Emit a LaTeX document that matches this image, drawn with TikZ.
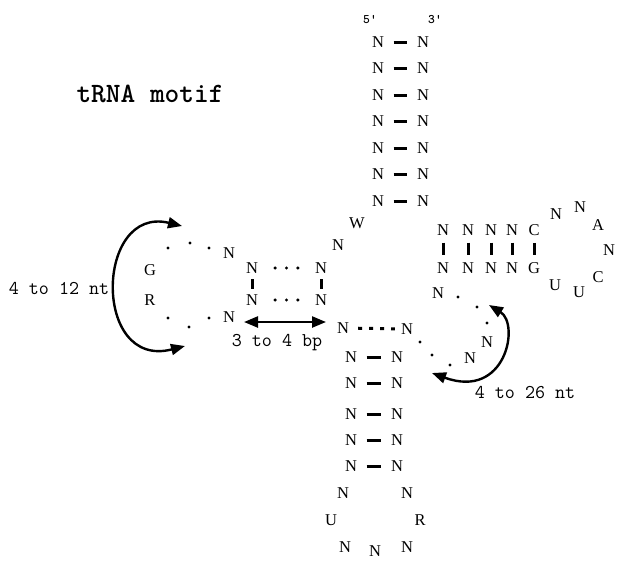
\documentclass[tikz,border=0pt]{standalone}
\usepackage{fontspec}
\newfontfamily\basefont{Liberation Serif}
\usetikzlibrary{arrows.meta}
\begin{document}
\begin{tikzpicture}[x=1pt,y=-1pt,
  nt/.style={inner sep=0pt, font=\fontsize{16.5}{16.5}\selectfont\basefont},
  lbl/.style={inner sep=0pt, font=\fontsize{19.5}{19.5}\selectfont\ttfamily},
  endlbl/.style={inner sep=0pt, font=\fontsize{13}{13}\selectfont\ttfamily\bfseries},
  hbar/.style={line width=3pt, shorten >=9.5pt, shorten <=9.5pt},
  vbar/.style={line width=3pt, shorten >=5.5pt, shorten <=5.5pt},
  nd/.style={circle, fill, inner sep=0pt, minimum size=3.4pt},
  span/.style={line width=2.4pt, {Triangle[length=14pt,width=11pt]}-{Triangle[length=14pt,width=11pt]}}
]
\useasboundingbox (0,0) rectangle (617,560);

% title
\node[inner sep=0pt, font=\fontsize{28}{28}\selectfont\ttfamily\bfseries] (title) at (150,94) {tRNA motif};

% acceptor stem
\node[endlbl] (five) at (370,20) {5'};
\node[endlbl] (three) at (435,20) {3'};
\foreach \i/\y in {1/42,2/68.5,3/95,4/121.5,5/148,6/174.5,7/201} {
  \node[nt] (al\i) at (378,\y) {N};
  \node[nt] (ar\i) at (423,\y) {N};
  \draw[hbar] (al\i) -- (ar\i);
}

% junction
\node[nt] (w) at (357,223) {W};
\node[nt] (j1) at (338,245) {N};

% D stem
\node[nt] (d1) at (252,268) {N};
\node[nt] (d2) at (321,268) {N};
\node[nt] (d3) at (252,300) {N};
\node[nt] (d4) at (321,300) {N};
\draw[vbar] (d1) -- (d3);
\draw[vbar] (d2) -- (d4);
\path (d1) -- (d2) node[nd,pos=.3]{} node[nd,pos=.5]{} node[nd,pos=.7]{};
\path (d3) -- (d4) node[nd,pos=.3]{} node[nd,pos=.5]{} node[nd,pos=.7]{};

% D loop
\node[nt] (dl1) at (229,253) {N};
\node[nd] (dd1) at (209,248) {};
\node[nd] (dd2) at (190,243) {};
\node[nd] (dd3) at (168,248) {};
\node[nt] (g) at (150,270) {G};
\node[nt] (r) at (150,300) {R};
\node[nd] (dd4) at (168,318) {};
\node[nd] (dd5) at (189,327) {};
\node[nd] (dd6) at (209,318) {};
\node[nt] (dl2) at (229,317) {N};

% D loop size
\coordinate (lt) at (182,226);
\coordinate (lb) at (185,346);
\draw[span] (lt) .. controls (95,205) and (92,370) .. (lb);
\node[lbl] (ntD) at (59,288) {4 to 12 nt};

% D stem size
\coordinate (bpl) at (244,322);
\coordinate (bpr) at (326,322);
\draw[span] (bpl) -- (bpr);
\node[lbl] (bp) at (277,343) {3 to 4 bp};

% T stem
\foreach \i/\x/\t/\b in {1/443/N/N,2/468/N/N,3/491/N/N,4/512/N/N,5/534/C/G} {
  \node[nt] (tu\i) at (\x,230) {\t};
  \node[nt] (tb\i) at (\x,268) {\b};
  \draw[vbar, shorten >=7pt, shorten <=7pt] (tu\i) -- (tb\i);
}

% T loop
\node[nt] (tl1) at (556,214) {N};
\node[nt] (tl2) at (580,207) {N};
\node[nt] (tl3) at (598,225) {A};
\node[nt] (tl4) at (609,250) {N};
\node[nt] (tl5) at (598,277) {C};
\node[nt] (tl6) at (579,292) {U};
\node[nt] (tl7) at (555,285) {U};

% variable region
\node[nt] (v1) at (438,293) {N};
\node[nd] (vd1) at (458,297) {};
\node[nd] (vd2) at (477,307) {};
\node[nd] (vd3) at (487,323) {};
\node[nt] (v2) at (487,342) {N};
\node[nt] (v3) at (470,358) {N};
\node[nd] (vd4) at (450,365) {};
\node[nd] (vd5) at (432,355) {};
\node[nd] (vd6) at (420,342) {};

% variable region size
\coordinate (rt) at (489,305);
\coordinate (rb) at (432,373);
\draw[span] (rt) .. controls (520,324) and (506,400) .. (rb);
\node[lbl] (ntV) at (525,393) {4 to 26 nt};

% anticodon stem
\node[nt] (c1) at (343,328) {N};
\node[nt] (c2) at (407,329) {N};
\draw[line width=3pt, dash pattern=on 4pt off 7pt, shorten <=9pt, shorten >=6pt] (c1) -- (c2);
\foreach \i/\y in {1/357,2/383,3/414,4/440,5/466} {
  \node[nt] (bl\i) at (351,\y) {N};
  \node[nt] (br\i) at (397,\y) {N};
  \draw[hbar] (bl\i) -- (br\i);
}

% anticodon loop
\node[nt] (k1) at (343,493) {N};
\node[nt] (k2) at (331,520) {U};
\node[nt] (k3) at (345,547) {N};
\node[nt] (k4) at (375,551) {N};
\node[nt] (k5) at (407,547) {N};
\node[nt] (k6) at (420,520) {R};
\node[nt] (k7) at (407,493) {N};
\end{tikzpicture}
\end{document}
